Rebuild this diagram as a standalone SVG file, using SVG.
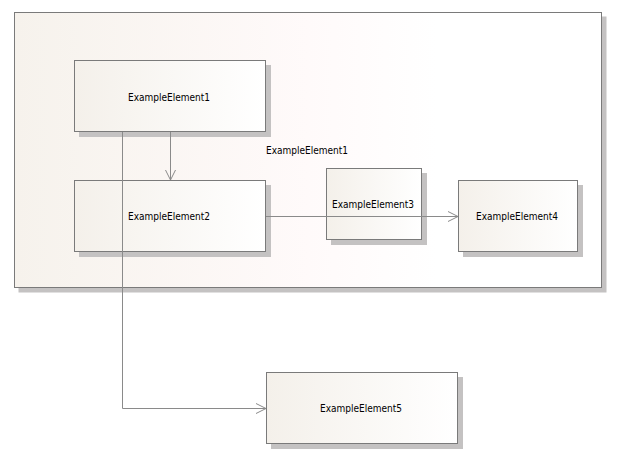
<svg xmlns="http://www.w3.org/2000/svg" width="630" height="469" viewBox="0 0 630 469">
<style>
.shadow{fill:#c4c2c2}
.box{stroke:#7a7a7a;stroke-width:1}
.lbl{font-family:"DejaVu Sans Condensed","DejaVu Sans","Liberation Sans",sans-serif;font-stretch:condensed;font-size:10px;fill:#000;text-anchor:middle}
.con{fill:none;stroke:#8a8a8a;stroke-width:1}
</style>
<defs>
<linearGradient id="gNode" x1="0" y1="0" x2="1" y2="0">
<stop offset="0" stop-color="#f4f0ea"/>
<stop offset="1" stop-color="#ffffff"/>
</linearGradient>
<linearGradient id="gCont" x1="0" y1="0" x2="1" y2="0">
<stop offset="0" stop-color="#f6f2ec"/>
<stop offset="0.5" stop-color="#fffafa"/>
<stop offset="0.72" stop-color="#ffffff"/>
<stop offset="1" stop-color="#ffffff"/>
</linearGradient>
<marker id="arr" markerWidth="12" markerHeight="12" refX="10" refY="6" orient="auto" markerUnits="userSpaceOnUse">
<path d="M0,1 L10,6 L0,11" fill="none" stroke="#8a8a8a" stroke-width="1"/>
</marker>
</defs>
<rect x="0" y="0" width="630" height="469" fill="#ffffff"/>
<g id="container">
<rect class="shadow" x="18.5" y="16.5" width="588" height="276"/>
<rect class="box" x="14.5" y="12.5" width="587" height="275" fill="url(#gCont)"/>
<text class="lbl" x="307" y="154">ExampleElement1</text>
</g>
<g id="ExampleElement1">
<rect class="shadow" x="79" y="65" width="192" height="72"/>
<rect class="box" x="74.5" y="60.5" width="191" height="71" fill="url(#gNode)"/>
<text class="lbl" x="169" y="101">ExampleElement1</text>
</g>
<g id="ExampleElement2">
<rect class="shadow" x="79" y="185" width="192" height="72"/>
<rect class="box" x="74.5" y="180.5" width="191" height="71" fill="url(#gNode)"/>
<text class="lbl" x="169" y="220">ExampleElement2</text>
</g>
<g id="ExampleElement3">
<rect class="shadow" x="331" y="173" width="96" height="72"/>
<rect class="box" x="326.5" y="168.5" width="95" height="71" fill="url(#gNode)"/>
<text class="lbl" x="373" y="208">ExampleElement3</text>
</g>
<g id="ExampleElement4">
<rect class="shadow" x="463" y="185" width="120" height="72"/>
<rect class="box" x="458.5" y="180.5" width="119" height="71" fill="url(#gNode)"/>
<text class="lbl" x="517" y="220">ExampleElement4</text>
</g>
<g id="ExampleElement5">
<rect class="shadow" x="271" y="377" width="192" height="72"/>
<rect class="box" x="266.5" y="372.5" width="191" height="71" fill="url(#gNode)"/>
<text class="lbl" x="361" y="412">ExampleElement5</text>
</g>
<g id="connectors">
<path class="con" d="M170.5,132 L170.5,180" marker-end="url(#arr)"/>
<path class="con" d="M266,216.5 L458,216.5" marker-end="url(#arr)"/>
<path class="con" d="M122.5,132 L122.5,408.5 L266,408.5" marker-end="url(#arr)"/>
</g>
</svg>
